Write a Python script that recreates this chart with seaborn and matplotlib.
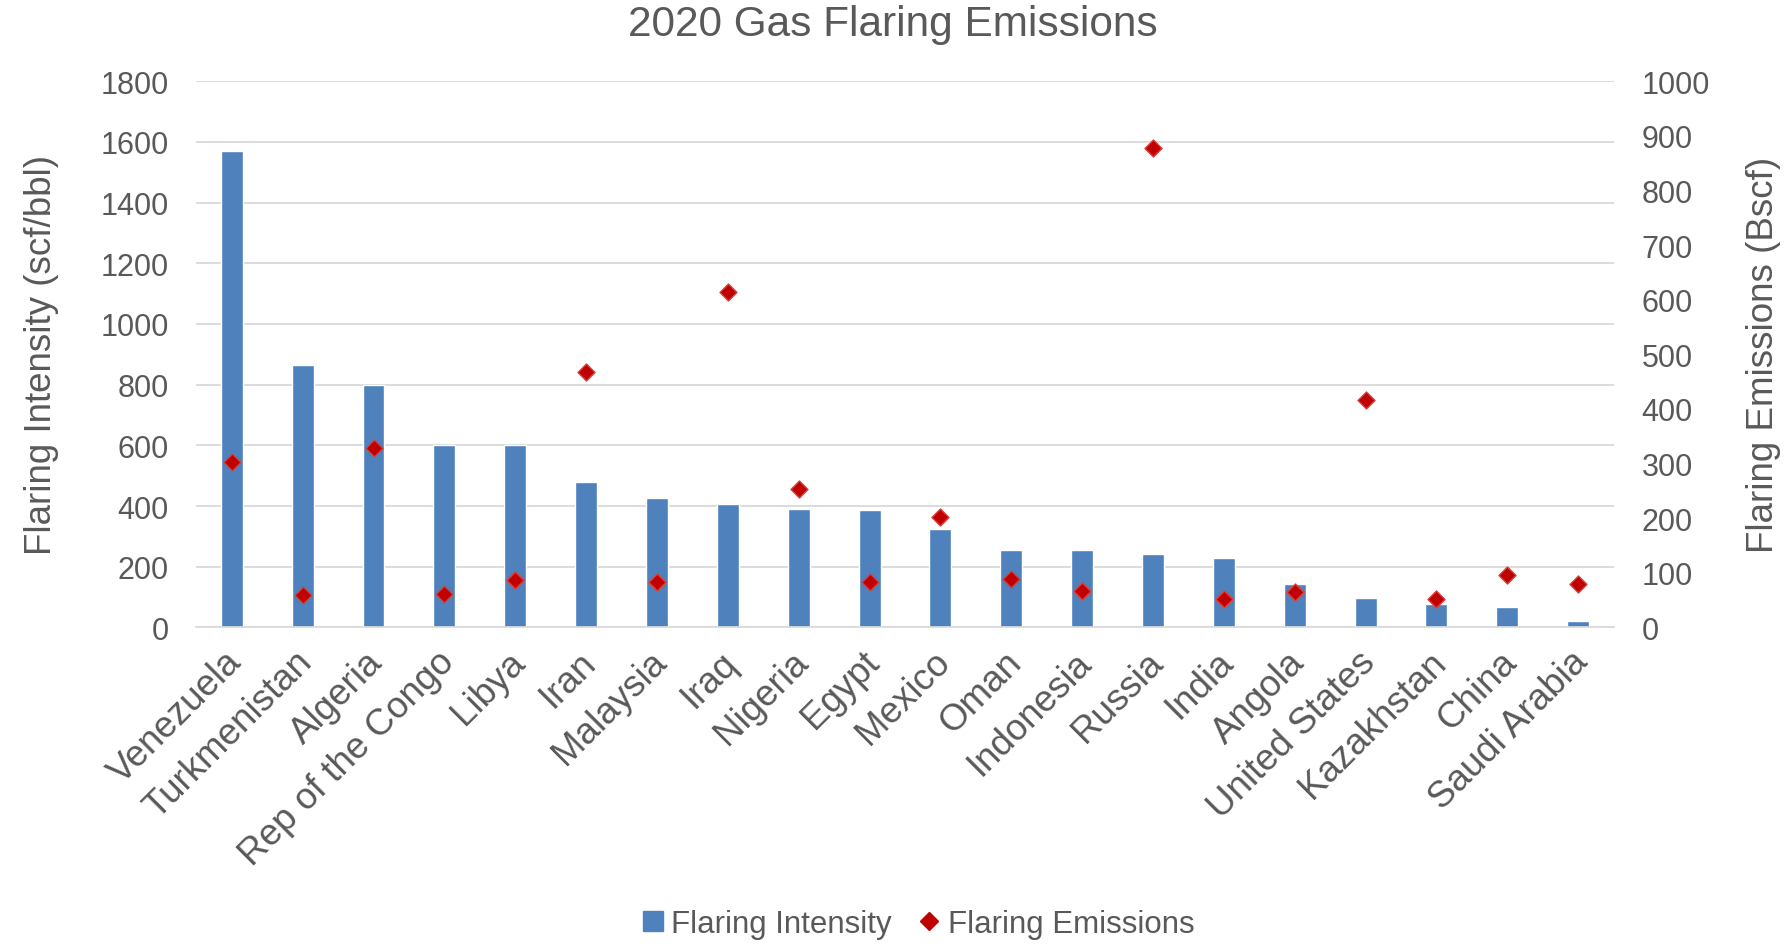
import pandas as pd
import matplotlib
matplotlib.use("Agg")
import matplotlib.pyplot as plt
import matplotlib.transforms as mtransforms
from matplotlib.lines import Line2D
import seaborn as sns

countries = ["Venezuela", "Turkmenistan", "Algeria", "Rep of the Congo", "Libya",
             "Iran", "Malaysia", "Iraq", "Nigeria", "Egypt", "Mexico", "Oman",
             "Indonesia", "Russia", "India", "Angola", "United States",
             "Kazakhstan", "China", "Saudi Arabia"]
intensity = [1570, 864, 800, 602, 602, 479, 428, 408, 389, 387, 324, 254,
             254, 242, 228, 142, 98, 78, 66, 22]
emissions = [302, 59, 329, 62, 86, 467, 84, 614, 254, 83, 202, 88,
             67, 878, 52, 65, 417, 52, 96, 79]

df = pd.DataFrame({"country": countries, "intensity": intensity, "emissions": emissions})

sns.set_theme(style="white")
plt.rcParams['font.family'] = ['Liberation Sans', 'DejaVu Sans']
grey = "#595959"
bar_col = "#4F81BD"
red = "#C00000"

fig = plt.figure(figsize=(17.85, 9.45), dpi=100)
ax = fig.add_axes([0.110, 0.335, 0.794, 0.578])

sns.barplot(data=df, x="country", y="intensity", color=bar_col, width=0.31,
            saturation=1, ax=ax, zorder=2)
ax2 = ax.twinx()
sns.scatterplot(data=df, x="country", y="emissions", marker="D", s=75,
                color=red, edgecolor="#D9403A", linewidth=1, ax=ax2, zorder=3)

ax.set_xlim(-0.5, len(countries) - 0.5)
ax.set_ylim(0, 1800)
ax.set_yticks(range(0, 1801, 200))
ax2.set_ylim(0, 1000)
ax2.set_yticks(range(0, 1001, 100))
ax.grid(axis="y", color="#D9D9D9", linewidth=1.3, zorder=0)
ax.set_axisbelow(True)

for a in (ax, ax2):
    for s in a.spines.values():
        s.set_visible(False)
    a.tick_params(length=0, labelsize=22, labelcolor=grey, pad=20)
ax.spines["bottom"].set_visible(True)
ax.spines["bottom"].set_color("#D9D9D9")

# 类别标签：45 度旋转，略微向左下偏移
ax.set_xlabel("")
ax.set_xticks(range(len(countries)))
ax.set_xticklabels(countries, rotation=45, ha="right", rotation_mode="anchor", fontsize=26.5)
ax.tick_params(axis="x", pad=12)
shift = mtransforms.ScaledTranslation(-0.08, 0, fig.dpi_scale_trans)
for lbl in ax.get_xticklabels():
    lbl.set_transform(lbl.get_transform() + shift)

ax.set_ylabel("Flaring Intensity (scf/bbl)", fontsize=26.5, color=grey, labelpad=30)
ax2.set_ylabel("Flaring Emissions (Bscf)", fontsize=26.5, color=grey, labelpad=26)

fig.suptitle("2020 Gas Flaring Emissions", fontsize=30.5, color=grey, y=0.974, va="center")

handles = [Line2D([], [], marker="s", linestyle="", color=bar_col, markersize=14),
           Line2D([], [], marker="D", linestyle="", color=red, markersize=9)]
fig.legend(handles, ["Flaring Intensity", "Flaring Emissions"], loc="center",
           bbox_to_anchor=(0.514, 0.021), ncol=2, frameon=False, fontsize=22.5,
           labelcolor=grey, handlelength=0.8, handletextpad=0.2, columnspacing=0.8)

fig.savefig("out.png", dpi=100)
